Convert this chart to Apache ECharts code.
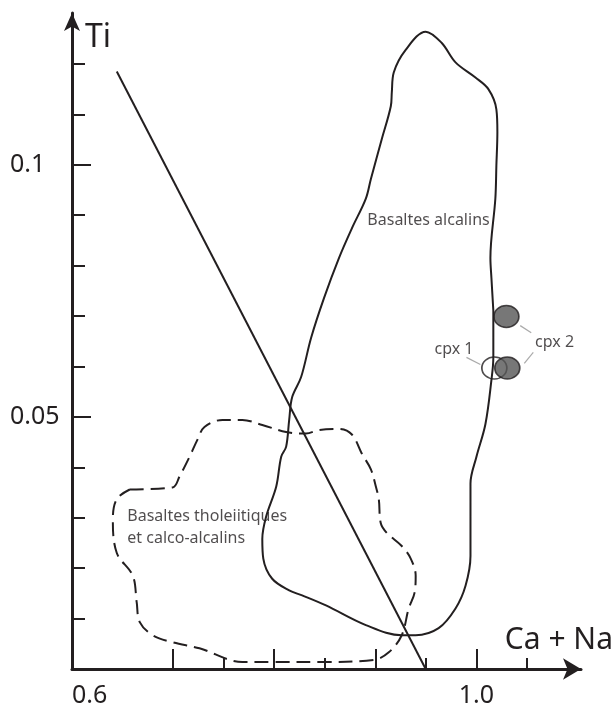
<!DOCTYPE html>
<html>
<head>
<meta charset="utf-8">
<script src="https://cdn.jsdelivr.net/npm/echarts@6/dist/echarts.min.js"></script>
<style>
html, body { margin: 0; padding: 0; background: #fff; }
#chart { width: 616px; height: 708px; }
</style>
</head>
<body>
<div id="chart"></div>
<script>
// outline of the alkaline basalt field (Ca + Na, Ti), starting on the right side
const alcalin_field = [
    [1.0167, 0.0711], [1.0167, 0.0618], [1.0148, 0.0573], [1.0089, 0.0486],
    [1.0000, 0.0421], [0.9941, 0.0368], [0.9941, 0.0289], [0.9941, 0.0224], [0.9892, 0.0165],
    [0.9793, 0.0120], [0.9626, 0.0081], [0.9399, 0.0067], [0.9261, 0.0067], [0.8906, 0.0087],
    [0.8512, 0.0126], [0.8276, 0.0146], [0.8148, 0.0156], [0.7980, 0.0179], [0.7892, 0.0219],
    [0.7882, 0.0258], [0.7921, 0.0303], [0.8020, 0.0362], [0.8069, 0.0421], [0.8118, 0.0441],
    [0.8148, 0.0494], [0.8177, 0.0539], [0.8266, 0.0579], [0.8365, 0.0657], [0.8493, 0.0736],
    [0.8640, 0.0815], [0.8768, 0.0874], [0.8906, 0.0933], [0.8956, 0.0972], [0.9064, 0.1051],
    [0.9153, 0.1116], [0.9163, 0.1144], [0.9182, 0.1183], [0.9300, 0.1228], [0.9498, 0.1264],
    [0.9655, 0.1242], [0.9793, 0.1203], [0.9990, 0.1173], [1.0118, 0.1150],
    [1.0197, 0.1110], [1.0207, 0.1065], [1.0197, 0.0998], [1.0187, 0.0933], [1.0138, 0.0815],
    [1.0148, 0.0776], [1.0167, 0.0711]
];
// outline of the tholeiitic / calc-alkaline field
const tholeiite_field = [
    [0.6571, 0.0356], [0.6995, 0.0360], [0.7064, 0.0382], [0.7163, 0.0421], [0.7241, 0.0455],
    [0.7310, 0.0480], [0.7488, 0.0494], [0.7685, 0.0494], [0.7882, 0.0484], [0.8118, 0.0470],
    [0.8315, 0.0467], [0.8443, 0.0474], [0.8640, 0.0476], [0.8768, 0.0465], [0.8867, 0.0427],
    [0.8956, 0.0396], [0.9005, 0.0362], [0.9034, 0.0337], [0.9054, 0.0289], [0.9113, 0.0270],
    [0.9261, 0.0244], [0.9350, 0.0219], [0.9399, 0.0185], [0.9389, 0.0152], [0.9330, 0.0120],
    [0.9261, 0.0067], [0.9133, 0.0033], [0.8985, 0.0018], [0.8473, 0.0014], [0.7980, 0.0014],
    [0.7685, 0.0014], [0.7261, 0.0041], [0.6995, 0.0053], [0.6798, 0.0067], [0.6670, 0.0093],
    [0.6640, 0.0132], [0.6601, 0.0185], [0.6443, 0.0230], [0.6404, 0.0297], [0.6443, 0.0337],
    [0.6571, 0.0356]
];
const divide_line = [[0.6443, 0.1185], [0.9498, 0.0]];
const cpx1_points = [[1.0177, 0.0597]];
const cpx2_points = [[1.0296, 0.0699], [1.0305, 0.0597]];
const leader_lines = [
    [[1.0433, 0.0681], [1.0542, 0.0667]],
    [[1.0562, 0.0628], [1.0473, 0.0606]],
    [[0.9901, 0.0618], [1.0039, 0.0604]]
];
const field_labels = [
    { value: [0.8916, 0.0890], name: 'Basaltes alcalins' },
    { value: [0.6542, 0.0280], name: 'Basaltes tholeiitiques\net calco-alcalins' }
];
const cpx_labels = [
    { value: [0.9975, 0.0634], name: 'cpx 1', side: 'left' },
    { value: [1.0575, 0.0648], name: 'cpx 2', side: 'right' }
];
const x_ticks_major = [0.7, 0.8, 0.9, 1.0];
const x_ticks_minor = [0.75, 0.85, 0.95, 1.05];
const x_tick_labels = [0.6, 1.0];
const y_ticks_major = [0.05, 0.1];
const y_ticks_minor = [0.01, 0.02, 0.03, 0.04, 0.06, 0.07, 0.08, 0.09, 0.11, 0.12];

const font = 'Noto Sans';
const ink = '#231f20';
let chart = echarts.init(document.getElementById('chart'), null, { renderer: 'canvas' });

let x_base = { type: 'value', min: 0.6, max: 1.1034, position: 'bottom', splitLine: { show: false } };
let y_base = { type: 'value', min: 0, max: 0.1301, position: 'left', splitLine: { show: false } };

let option = {
    animation: false,
    backgroundColor: '#fff',
    grid: { left: 72, right: 33, top: 13, bottom: 34, containLabel: false },
    xAxis: [
        Object.assign({}, x_base, {
            name: 'Ca + Na',
            nameLocation: 'end',
            nameGap: 32,
            nameTextStyle: { fontFamily: font, fontSize: 30, color: ink, align: 'right', verticalAlign: 'bottom', padding: [0, 0, 14, 0] },
            axisLine: { show: true, symbol: ['none', 'arrow'], symbolSize: [16, 18], lineStyle: { color: ink, width: 3 } },
            axisTick: { show: true, inside: true, length: 20, customValues: x_ticks_major, lineStyle: { color: ink, width: 2 } },
            axisLabel: {
                show: true, customValues: x_tick_labels, margin: 14, fontFamily: font, fontSize: 25, color: ink,
                alignMinLabel: 'left',
                formatter: v => v.toFixed(1)
            }
        }),
        Object.assign({}, x_base, {
            axisLine: { show: false },
            axisTick: { show: true, inside: true, length: 11, customValues: x_ticks_minor, lineStyle: { color: ink, width: 2 } },
            axisLabel: { show: false }
        })
    ],
    yAxis: [
        Object.assign({}, y_base, {
            name: 'Ti',
            nameLocation: 'end',
            nameGap: -9,
            nameTextStyle: { fontFamily: font, fontSize: 32, color: ink, align: 'left', verticalAlign: 'top', padding: [0, 0, 0, 13] },
            axisLine: { show: true, symbol: ['none', 'arrow'], symbolSize: [12, 18], lineStyle: { color: ink, width: 3 } },
            axisTick: { show: true, inside: true, length: 19, customValues: y_ticks_major, lineStyle: { color: ink, width: 2 } },
            axisLabel: {
                show: true, customValues: y_ticks_major, margin: 62, align: 'left', fontFamily: font, fontSize: 25, color: ink,
                formatter: v => String(v)
            }
        }),
        Object.assign({}, y_base, {
            axisLine: { show: false },
            axisTick: { show: true, inside: true, length: 13, customValues: y_ticks_minor, lineStyle: { color: ink, width: 2 } },
            axisLabel: { show: false }
        })
    ],
    series: [
        {
            name: 'Basaltes alcalins', type: 'line', data: alcalin_field, smooth: 0.35, symbol: 'none', silent: true,
            lineStyle: { color: ink, width: 2 }
        },
        {
            name: 'Basaltes tholeiitiques', type: 'line', data: tholeiite_field, smooth: 0.35, symbol: 'none', silent: true,
            lineStyle: { color: ink, width: 2, type: [14, 7] }
        },
        {
            name: 'limite', type: 'line', data: divide_line, symbol: 'none', silent: true,
            lineStyle: { color: ink, width: 2 }
        },
        ...leader_lines.map(seg => ({
            type: 'line', data: seg, symbol: 'none', silent: true,
            lineStyle: { color: '#aaaaaa', width: 1.2 }
        })),
        {
            name: 'cpx 1', type: 'scatter', data: cpx1_points, symbol: 'circle', symbolSize: [25, 22],
            itemStyle: { color: '#ffffff', borderColor: ink, borderWidth: 1.6 }
        },
        {
            name: 'cpx 2', type: 'scatter', data: cpx2_points, symbol: 'circle', symbolSize: [25, 22],
            itemStyle: { color: '#555555', borderColor: ink, borderWidth: 1.6 }
        },
        {
            type: 'scatter', data: field_labels, symbolSize: 1, silent: true,
            itemStyle: { color: 'rgba(0,0,0,0)' },
            label: {
                show: true, position: 'right', distance: 0, formatter: p => p.name,
                fontFamily: font, fontSize: 16, lineHeight: 22, color: ink, align: 'left'
            }
        },
        {
            type: 'scatter', data: cpx_labels.map(d => ({
                value: d.value, name: d.name,
                label: { position: d.side, align: d.side === 'left' ? 'right' : 'left' }
            })), symbolSize: 1, silent: true,
            itemStyle: { color: 'rgba(0,0,0,0)' },
            label: { show: true, distance: 0, formatter: p => p.name, fontFamily: font, fontSize: 16, color: ink }
        }
    ]
};
chart.setOption(option);
</script>
</body>
</html>
